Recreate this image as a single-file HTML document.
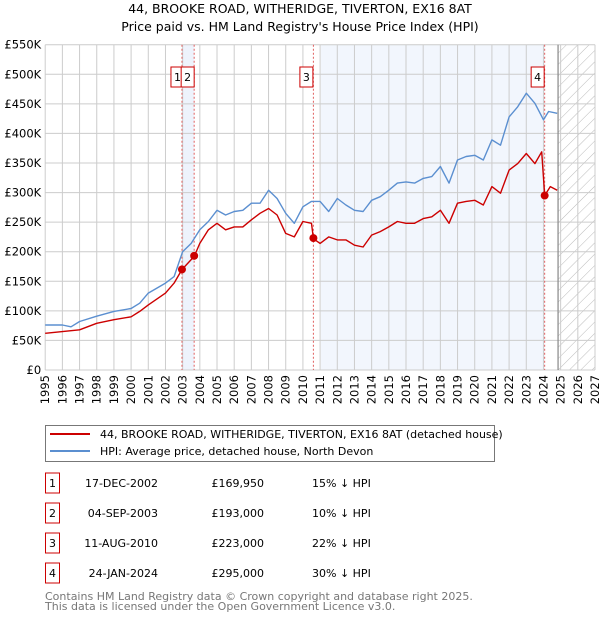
<!DOCTYPE html>
<html><head><meta charset="utf-8"><style>
body{margin:0;background:#fff;font-family:"Liberation Sans","DejaVu Sans",sans-serif;}
svg text{font-family:"DejaVu Sans","Liberation Sans",sans-serif;}
</style></head><body>
<svg id="c" width="600" height="620" viewBox="0 0 600 620" xmlns="http://www.w3.org/2000/svg">
<defs><pattern id="hatch" width="8" height="8" patternUnits="userSpaceOnUse" patternTransform="rotate(45)"><line x1="0" y1="0" x2="0" y2="8" stroke="#bbb" stroke-width="1"/></pattern></defs>
<text x="300" y="13" text-anchor="middle" font-size="12.5" fill="#000">44, BROOKE ROAD, WITHERIDGE, TIVERTON, EX16 8AT</text>
<text x="300" y="31" text-anchor="middle" font-size="12.5" fill="#000">Price paid vs. HM Land Registry's House Price Index (HPI)</text>
<g id="plot"></g>
<g>
<rect x="45.5" y="425.5" width="449" height="36" fill="#fff" stroke="#777"/>
<line x1="50" y1="434" x2="90" y2="434" stroke="#cc0000" stroke-width="2"/>
<text x="100" y="438" font-size="11">44, BROOKE ROAD, WITHERIDGE, TIVERTON, EX16 8AT (detached house)</text>
<line x1="50" y1="451" x2="90" y2="451" stroke="#5b8fd0" stroke-width="2"/>
<text x="100" y="455" font-size="11">HPI: Average price, detached house, North Devon</text>
</g>
<g id="table" font-size="11"></g>
<text x="45" y="600" font-size="11" fill="#777">Contains HM Land Registry data © Crown copyright and database right 2025.</text>
<text x="45" y="610" font-size="11" fill="#777">This data is licensed under the Open Government Licence v3.0.</text>
</svg>
<script>
const hpiYears=[1995,1996,1996.5,1997,1998,1999,2000,2000.5,2001,2002,2002.5,2003,2003.5,2004,2004.5,2005,2005.5,2006,2006.5,2007,2007.5,2008,2008.5,2009,2009.5,2010,2010.5,2011,2011.5,2012,2012.5,2013,2013.5,2014,2014.5,2015,2015.5,2016,2016.5,2017,2017.5,2018,2018.5,2019,2019.5,2020,2020.5,2021,2021.5,2022,2022.5,2023,2023.5,2024,2024.3,2024.8];
const hpiValues=[76,76,73,82,91,99,104,113,130,147,158,200,214,237,251,270,262,268,270,282,282,304,290,265,248,276,285,285,268,290,279,270,268,287,293,304,316,318,316,324,327,344,316,355,361,363,355,389,380,428,445,468,451,423,437,434];
const ppYears=[1995,1996,1997,1998,1999,2000,2000.5,2001,2002,2002.5,2002.96,2003.67,2004,2004.5,2005,2005.5,2006,2006.5,2007,2007.5,2008,2008.5,2009,2009.5,2010,2010.5,2010.61,2011,2011.5,2012,2012.5,2013,2013.5,2014,2014.5,2015,2015.5,2016,2016.5,2017,2017.5,2018,2018.5,2019,2019.5,2020,2020.5,2021,2021.5,2022,2022.5,2023,2023.5,2023.9,2024.07,2024.4,2024.8];
const ppValues=[62,65,68,79,85,90,99,110,130,147,170,192,214,237,248,237,242,242,254,265,273,262,231,225,251,248,222,214,225,220,220,211,208,228,234,242,251,248,248,256,259,270,248,282,285,287,279,310,299,338,349,366,349,369,295,310,304];
const saleYears=[2002.96,2003.67,2010.61,2024.07];
const salePrices=[169.95,193,223,295];
const saleDates=["17-DEC-2002","04-SEP-2003","11-AUG-2010","24-JAN-2024"];
const saleLabels=["£169,950","£193,000","£223,000","£295,000"];
const saleDiffs=["15% ↓ HPI","10% ↓ HPI","22% ↓ HPI","30% ↓ HPI"];
const yTicks=[0,50,100,150,200,250,300,350,400,450,500,550];
const yTickLabels=["£0","£50K","£100K","£150K","£200K","£250K","£300K","£350K","£400K","£450K","£500K","£550K"];
const xTicks=[1995,1996,1997,1998,1999,2000,2001,2002,2003,2004,2005,2006,2007,2008,2009,2010,2011,2012,2013,2014,2015,2016,2017,2018,2019,2020,2021,2022,2023,2024,2025,2026,2027];
const todayYear=2024.85;

const X0=45.2,X1=595,Y0=370,Y1=44.7;
const xs=y=>X0+(y-1995)*(X1-X0)/32;
const ys=v=>Y0-v*(Y0-Y1)/550;
const NS="http://www.w3.org/2000/svg";
const g=document.getElementById('plot');
function mk(tag,attrs,parent){const e=document.createElementNS(NS,tag);for(const k in attrs)e.setAttribute(k,attrs[k]);(parent||g).appendChild(e);return e;}

let r;
r=mk('rect',{x:X0,y:Y1,width:X1-X0,height:Y0-Y1,fill:'#fff'});


r=mk('rect',{x:xs(saleYears[0]),y:Y1,width:xs(saleYears[1])-xs(saleYears[0]),height:Y0-Y1,fill:'#eef3fc'});


r=mk('rect',{x:xs(2011.05),y:Y1,width:xs(saleYears[3])-xs(2011.05),height:Y0-Y1,fill:'#f2f6fd'});


r=mk('rect',{x:xs(todayYear),y:Y1,width:X1-xs(todayYear),height:Y0-Y1,fill:'url(#hatch)'});



yTicks.forEach((v,i)=>{
  const l=mk('line',{x1:X0,x2:X1,y1:ys(v),y2:ys(v),stroke:'#ccc','stroke-width':1});
  
  
  const t=mk('text',{x:X0-4,y:ys(v)+4,'text-anchor':'end','font-size':11.5});
  t.textContent=yTickLabels[i];
  
  
});
xTicks.forEach(yr=>{
  const l=mk('line',{x1:xs(yr),x2:xs(yr),y1:Y1,y2:Y0,stroke:'#ccc','stroke-width':1});
  
  
  const t=mk('text',{x:0,y:0,'text-anchor':'end','font-size':11.5,transform:`translate(${xs(yr)+4},${Y0+5}) rotate(-90)`});
  t.textContent=yr;
  
  
});
r=mk('line',{x1:xs(todayYear),x2:xs(todayYear),y1:Y1,y2:Y0,stroke:'#888','stroke-width':1.2});



saleYears.forEach((yr,i)=>{
  const l=mk('line',{x1:xs(yr),x2:xs(yr),y1:Y1,y2:Y0,stroke:'#e06060','stroke-width':1,'stroke-dasharray':'2,2'});
  
  
});

function path(xa,va,color,name){
  const d=xa.map((x,i)=>(i?'L':'M')+xs(x).toFixed(1)+','+ys(va[i]).toFixed(1)).join('');
  const p=mk('path',{d:d,fill:'none',stroke:color,'stroke-width':1.4,'stroke-linejoin':'round'});
  
  
}
path(hpiYears,hpiValues,'#5b8fd0','hpi-line');
path(ppYears,ppValues,'#cc0000','price-paid-line');

saleYears.forEach((yr,i)=>{
  const c=mk('circle',{cx:xs(yr),cy:ys(salePrices[i]),r:4,fill:'#cc0000'});
  
  
  let bx=xs(yr)-13.5; if(i===1) bx=xs(yr)-13; if(i===0) bx=xs(yr)-11;
  const b=mk('rect',{x:bx,y:67,width:13,height:20,fill:'#fff',stroke:'#cc0000','stroke-width':1});
  
  
  const t=mk('text',{x:bx+6.5,y:81,'text-anchor':'middle','font-size':11});
  t.textContent=i+1;
  
  
});

const tb=document.getElementById('table');
saleDates.forEach((d,i)=>{
  const y=483+i*30;
  const b=mk('rect',{x:45.5,y:y-10,width:14,height:20,fill:'#fff',stroke:'#cc0000'},tb);
  
  
  const n=mk('text',{x:52.5,y:y+4,'text-anchor':'middle'},tb);n.textContent=i+1;
  
  
  const a=mk('text',{x:158,y:y+4,'text-anchor':'end'},tb);a.textContent=d;
  
  
  const p=mk('text',{x:264,y:y+4,'text-anchor':'end'},tb);p.textContent=saleLabels[i];
  
  
  const h=mk('text',{x:312,y:y+4},tb);h.textContent=saleDiffs[i];
  
  
});
</script>
</body></html>
